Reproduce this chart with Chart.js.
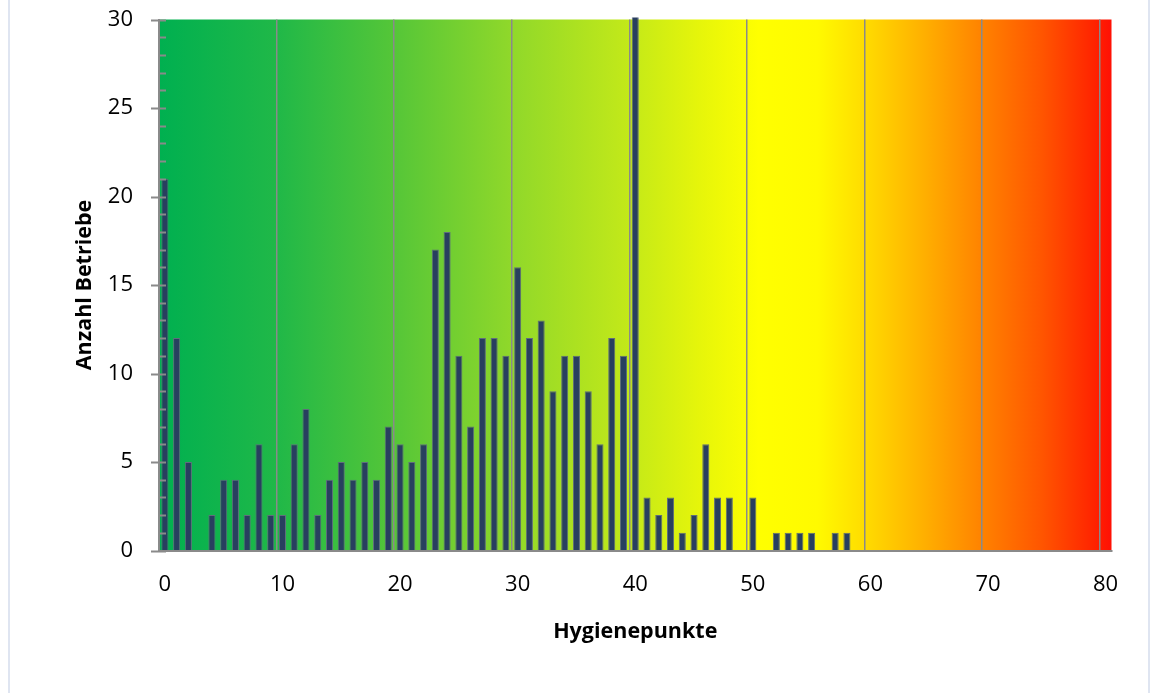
<!DOCTYPE html>
<html>
<head>
<meta charset="utf-8">
<title>Hygienepunkte</title>
<script src="https://cdn.jsdelivr.net/npm/chart.js@4/dist/chart.umd.min.js"></script>
<style>
    html, body { margin: 0; padding: 0; background: #ffffff; }
    #wrap { width: 1150px; height: 693px; position: relative; }
</style>
</head>
<body>
<div id="wrap"><canvas id="hygieneChart" width="1150" height="693"></canvas></div>
<script>
// Hygienepunkte 0..80 (one category per point)
const punkte = Array.from({ length: 81 }, (_, i) => String(i));

// Anzahl Betriebe per Hygienepunkt
const betriebe = [
    21, 12, 5, 0, 2, 4, 4, 2, 6, 2,      // 0-9
    2, 6, 8, 2, 4, 5, 4, 5, 4, 7,        // 10-19
    6, 5, 6, 17, 18, 11, 7, 12, 12, 11,  // 20-29
    16, 12, 13, 9, 11, 11, 9, 6, 12, 11, // 30-39
    31, 3, 2, 3, 1, 2, 6, 3, 3, 0,       // 40-49 (40 runs off the top)
    3, 0, 1, 1, 1, 1, 0, 1, 1, 0,        // 50-59
    0, 0, 0, 0, 0, 0, 0, 0, 0, 0,        // 60-69
    0, 0, 0, 0, 0, 0, 0, 0, 0, 0,        // 70-79
    0                                    // 80
];

const yTicks = [0, 5, 10, 15, 20, 25, 30];

// colour band behind the plot, green -> yellow -> red
const bandStops = [
    [0, '#00b050'], [10, '#20b848'], [20, '#55c638'], [30, '#90d82a'],
    [40, '#c3e919'], [46, '#e6f50a'], [51, '#ffff00'], [56, '#fffa00'],
    [60, '#ffdc00'], [65, '#ffb000'], [70, '#ff8200'], [75, '#ff5600'],
    [79.5, '#ff2400'], [81, '#ff1005']
];

const gridGray = '#8a8a8a';
const fontFamily = "'Open Sans', 'Noto Sans', sans-serif";

const frameAndBand = {
    id: 'frameAndBand',
    beforeDraw(chart) {
        const { ctx, chartArea: a } = chart;
        ctx.save();
        const g = ctx.createLinearGradient(a.left, 0, a.right, 0);
        bandStops.forEach(([v, c]) => g.addColorStop(v / 81, c));
        ctx.fillStyle = g;
        ctx.fillRect(a.left, a.top, a.right - a.left, a.bottom - a.top);
        // light frame lines at the sides
        ctx.strokeStyle = '#dfe5f1';
        ctx.lineWidth = 2;
        ctx.beginPath();
        ctx.moveTo(9, 0); ctx.lineTo(9, 693);
        ctx.moveTo(1149, 0); ctx.lineTo(1149, 693);
        ctx.stroke();
        ctx.restore();
    },
    afterDraw(chart) {
        // y axis major + minor tick marks
        const { ctx, chartArea: a } = chart;
        const y = chart.scales.y;
        ctx.save();
        ctx.strokeStyle = gridGray;
        ctx.lineWidth = 2;
        ctx.beginPath();
        for (let v = 0; v <= 30; v++) {
            const py = Math.round(y.getPixelForValue(v)) + 0.5;
            const x0 = v % 5 === 0 ? a.left - 8 : a.left;
            ctx.moveTo(x0, py);
            ctx.lineTo(a.left + 7, py);
        }
        ctx.stroke();
        ctx.restore();
    }
};

const config = {
    type: 'bar',
    data: {
        labels: punkte,
        datasets: [{
            label: 'Anzahl Betriebe',
            data: betriebe,
            backgroundColor: '#283f5f',
            borderColor: '#5f6d7c',
            borderWidth: 1,
            borderSkipped: 'bottom',
            barPercentage: 0.6,
            categoryPercentage: 1,
            clip: { left: 0, top: 2, right: 0, bottom: 0 }
        }]
    },
    plugins: [frameAndBand],
    options: {
        responsive: false,
        animation: false,
        layout: { padding: { left: 0, top: 19.5, right: 38.5, bottom: 0 } },
        plugins: {
            legend: { display: false },
            tooltip: { enabled: false }
        },
        scales: {
            x: {
                grid: {
                    offset: true,
                    drawTicks: false,
                    lineWidth: 1.5,
                    color: ctx => (ctx.index !== undefined && ctx.index > 0 && ctx.index % 10 === 0) ? gridGray : 'rgba(0,0,0,0)'
                },
                border: { color: gridGray, width: 2 },
                ticks: {
                    autoSkip: false,
                    maxRotation: 0,
                    padding: 21,
                    color: '#000000',
                    font: { family: fontFamily, size: 22 },
                    callback: (val, idx) => idx % 10 === 0 ? punkte[idx] : ''
                },
                title: {
                    display: true,
                    text: 'Hygienepunkte',
                    color: '#000000',
                    font: { family: fontFamily, size: 21.5, weight: 'bold' },
                    padding: { top: 0, bottom: 48 }
                },
                afterFit: s => {
                    s.height = 142.5;
                    s.paddingLeft = 0;
                    s.paddingRight = 0;
                }
            },
            y: {
                min: 0,
                max: 30,
                ticks: {
                    stepSize: 5,
                    padding: 26,
                    color: '#000000',
                    font: { family: fontFamily, size: 22 },
                    callback: v => yTicks.includes(v) ? String(v) : ''
                },
                grid: { drawOnChartArea: false, drawTicks: false },
                border: { color: gridGray, width: 2 },
                title: {
                    display: true,
                    text: 'Anzahl Betriebe',
                    color: '#000000',
                    font: { family: fontFamily, size: 21.5, weight: 'bold' },
                    padding: { top: 72, bottom: 0 }
                },
                afterFit: s => {
                    s.width = 159;
                    s.paddingTop = 0;
                    s.paddingBottom = 0;
                }
            }
        }
    }
};

new Chart(document.getElementById('hygieneChart').getContext('2d'), config);
</script>
</body>
</html>
